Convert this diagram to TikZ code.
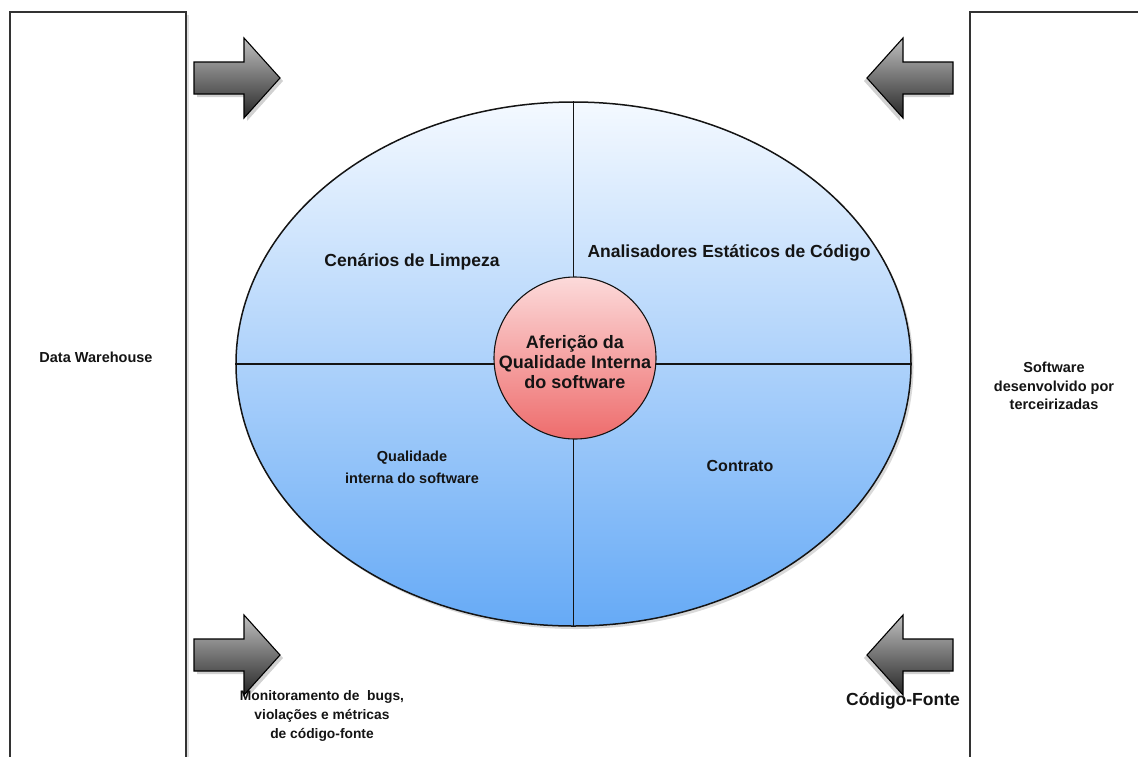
\documentclass[tikz,border=0pt]{standalone}
\usepackage{fontspec}
\setmainfont{Liberation Sans}
\usetikzlibrary{shadows,shapes.geometric}
\definecolor{elltop}{RGB}{244,249,255}
\definecolor{ellbot}{RGB}{102,170,246}
\definecolor{circtop}{RGB}{252,218,218}
\definecolor{circbot}{RGB}{238,108,108}
\definecolor{edge}{RGB}{20,20,20}
\tikzset{
  lbl/.style={font=\bfseries\fontsize{14.5}{18.5}\selectfont, align=center, text=black!92, inner sep=0pt},
  big/.style={font=\bfseries\fontsize{17.5}{20}\selectfont},
  sidebox/.style={draw=black!80, line width=1.4pt},
  fatarrow/.pic={
    \fill[black, opacity=0.18] (3,3) -- (3,-13) -- (53,-13) -- (53,-37) -- (89,3) -- (53,43) -- (53,19) -- (3,19) -- cycle;
    \shade[top color=gray!50, bottom color=black!85, draw=black, line width=1.1pt, line join=miter]
      (0,16) -- (0,-16) -- (50,-16) -- (50,-40) -- (86,0) -- (50,40) -- (50,16) -- cycle;
  }
}
\begin{document}
\begin{tikzpicture}[x=1pt, y=-1pt]
\useasboundingbox (0,0) rectangle (1138,756);
\fill[white] (0,0) rectangle (1138,756);
% side boxes
\fill[black, opacity=0.12] (13,770) -- (13,15) -- (189,15) -- (189,770);
\fill[white] (10,770) rectangle (186,12);
\draw[sidebox] (10,770) -- (10,12) -- (186,12) -- (186,770);
\fill[black, opacity=0.12] (973,770) -- (973,15) -- (1150,15);
\fill[white] (970,770) rectangle (1150,12);
\draw[sidebox] (1150,12) -- (970,12) -- (970,770);
% ellipse
\fill[black, opacity=0.15] (576,367) ellipse [x radius=337.5, y radius=262];
\node[ellipse, minimum width=675pt, minimum height=524pt, top color=elltop, bottom color=ellbot, draw=edge, line width=1.5pt, inner sep=0pt] (ell) at (573.5,364) {};
\draw[edge, line width=1.5pt] (ell.north) -- (ell.south);
\draw[edge, line width=1.5pt] (ell.west) -- (ell.east);
% centre circle
\node[circle, minimum size=162pt, top color=circtop, bottom color=circbot, draw=edge, line width=1.1pt, inner sep=0pt] (core) at (575,358) {};
\node[lbl, font=\bfseries\fontsize{18}{20}\selectfont] (coretxt) at (575,362) {Aferição da\\Qualidade Interna\\do software};
% quadrant labels
\node[lbl, big] (q1) at (412,262) {Cenários de Limpeza};
\node[lbl, big] (q2) at (729,253) {Analisadores Estáticos de Código};
\node[lbl, font=\bfseries\fontsize{14.5}{22}\selectfont] (q3) at (412,467) {Qualidade\\interna do software};
\node[lbl, font=\bfseries\fontsize{16}{18}\selectfont] (q4) at (740,466) {Contrato};
% side labels
\node[lbl] (dw) at (96,357) {Data Warehouse};
\node[lbl] (sw) at (1054,386) {Software\\desenvolvido por\\terceirizadas};
\node[lbl, font=\bfseries\fontsize{13.8}{19}\selectfont] (mon) at (322,716) {Monitoramento de \ bugs,\\violações e métricas\\de código-fonte};
\node[lbl, big] (cf) at (903,701) {Código-Fonte};
% arrows
\pic at (194,78) {fatarrow};
\pic at (194,655) {fatarrow};
\pic[xscale=-1] at (953,78) {fatarrow};
\pic[xscale=-1] at (953,655) {fatarrow};
\end{tikzpicture}
\end{document}
